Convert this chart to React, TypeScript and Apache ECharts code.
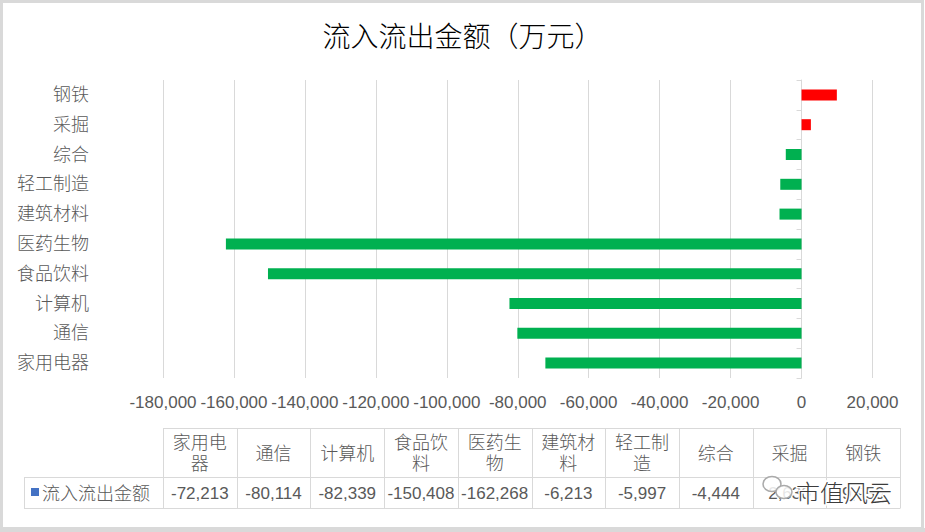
import React, { useEffect, useRef } from 'react';
import * as echarts from 'echarts';

// Categories listed bottom-to-top on the chart (= left-to-right in the data table)
const categories = ['家用电器', '通信', '计算机', '食品饮料', '医药生物', '建筑材料', '轻工制造', '综合', '采掘', '钢铁'];
const values = [-72213, -80114, -82339, -150408, -162268, -6213, -5997, -4444, 2630, 9950];
const seriesName = '流入流出金额';
const chartTitle = '流入流出金额（万元）';
const xMin = -180000;
const xMax = 20000;
const xStep = 20000;
const watermarkText = '市值风云';

const FONT = "'Liberation Sans', 'Noto Sans CJK SC', sans-serif";
const GRAY = '#595959';
const LINE = '#d9d9d9';
const WEIGHT = 300;

const fmt = (v: number) => v.toLocaleString('en-US');
const wrap = (s: string) => (s.length > 3 ? s.slice(0, 3) + '\n' + s.slice(3) : s);

export default function App() {
  const ref = useRef<HTMLDivElement>(null);
  useEffect(() => {
    document.body.style.margin = '0';
    const chart = echarts.init(ref.current!, null, { renderer: 'svg' });

    // table layout
    const tLeft = 163;
    const tRight = 900;
    const colW = (tRight - tLeft) / categories.length;
    const hTop = 428;
    const rTop = 477;
    const rBot = 508;
    const legLeft = 24;

    const graphics: any[] = [];
    const hline = (x1: number, x2: number, y: number) =>
      graphics.push({ type: 'line', shape: { x1, y1: y + 0.5, x2, y2: y + 0.5 }, style: { stroke: LINE, lineWidth: 1 }, silent: true });
    const vline = (x: number, y1: number, y2: number) =>
      graphics.push({ type: 'line', shape: { x1: Math.round(x) + 0.5, y1, x2: Math.round(x) + 0.5, y2 }, style: { stroke: LINE, lineWidth: 1 }, silent: true });

    hline(tLeft, tRight, hTop);
    hline(legLeft, tRight, rTop);
    hline(legLeft, tRight, rBot);
    for (let i = 0; i <= categories.length; i++) vline(tLeft + i * colW, hTop, rBot + 0.5);
    vline(legLeft, rTop, rBot + 0.5);

    categories.forEach((c, i) => {
      const cx = tLeft + (i + 0.5) * colW;
      graphics.push({
        type: 'text',
        style: {
          text: wrap(c), x: cx, y: (hTop + rTop) / 2 + 1, fill: GRAY, fontSize: 18, fontFamily: FONT, fontWeight: WEIGHT,
          lineHeight: 21, align: 'center', verticalAlign: 'middle', textAlign: 'center', textVerticalAlign: 'middle',
        },
      });
      graphics.push({
        type: 'text',
        style: {
          text: fmt(values[i]), x: cx, y: (rTop + rBot) / 2 + 1, fill: GRAY, fontSize: 17, fontFamily: FONT,
          align: 'center', verticalAlign: 'middle', textAlign: 'center', textVerticalAlign: 'middle',
        },
      });
    });

    // legend key in table
    graphics.push({ type: 'rect', shape: { x: 31, y: 488, width: 8, height: 8 }, style: { fill: '#4472C4' } });
    graphics.push({
      type: 'text',
      style: {
        text: seriesName, x: 42, y: (rTop + rBot) / 2 + 1, fill: GRAY, fontSize: 18, fontFamily: FONT, fontWeight: WEIGHT,
        align: 'left', verticalAlign: 'middle', textAlign: 'left', textVerticalAlign: 'middle',
      },
    });

    // watermark
    graphics.push({ type: 'ellipse', shape: { cx: 772, cy: 484, rx: 9, ry: 7.5 }, style: { fill: 'rgba(255,255,255,0.85)', stroke: '#aaa', lineWidth: 1.5 } });
    graphics.push({ type: 'ellipse', shape: { cx: 784, cy: 492, rx: 8, ry: 6.5 }, style: { fill: 'rgba(255,255,255,0.85)', stroke: '#aaa', lineWidth: 1.5 } });
    graphics.push({
      type: 'text',
      style: {
        text: watermarkText, x: 796, y: 493, fill: '#3c3c3c', stroke: '#ffffff', lineWidth: 3,
        fontSize: 24, fontFamily: FONT, fontWeight: WEIGHT, align: 'left', verticalAlign: 'middle', textAlign: 'left', textVerticalAlign: 'middle',
      },
    });

    // outer frame
    graphics.push({ type: 'rect', shape: { x: 1.5, y: 1.5, width: 921, height: 527 }, style: { fill: 'none', stroke: LINE, lineWidth: 3 }, silent: true });
    graphics.push({ type: 'rect', shape: { x: 0, y: 528, width: 925, height: 4 }, style: { fill: LINE }, silent: true });

    chart.setOption({
      animation: false,
      backgroundColor: '#ffffff',
      title: {
        text: chartTitle,
        left: 'center',
        top: 23,
        padding: 0,
        textStyle: { fontSize: 28, fontWeight: WEIGHT, color: '#000000', fontFamily: FONT },
      },
      grid: { left: 163, right: 52.5, top: 80, bottom: 154, containLabel: false, outerBoundsMode: 'none' },
      xAxis: {
        type: 'value',
        min: xMin,
        max: xMax,
        interval: xStep,
        axisLine: { show: false },
        axisTick: { show: false },
        axisLabel: { formatter: (v: number) => fmt(v), fontSize: 17, color: GRAY, fontFamily: FONT, margin: 16 },
        splitLine: { show: true, lineStyle: { color: LINE, width: 1 } },
      },
      yAxis: [
        {
          type: 'category',
          data: categories,
          position: 'left',
          axisLine: { show: false, onZero: false },
          axisTick: { show: false },
          axisLabel: { margin: 74, fontSize: 18, color: GRAY, fontFamily: FONT, fontWeight: WEIGHT },
          splitLine: { show: false },
        },
        {
          type: 'category',
          data: categories,
          position: 'left',
          axisLine: { show: true, onZero: true, lineStyle: { color: LINE, width: 1 } },
          axisTick: { show: true, length: 5, lineStyle: { color: LINE } },
          axisLabel: { show: false },
          splitLine: { show: false },
        },
      ],
      series: [
        {
          name: seriesName,
          type: 'bar',
          yAxisIndex: 0,
          barWidth: 11,
          data: values.map((v) => ({ value: v, itemStyle: { color: v < 0 ? '#00B050' : '#FF0000' } })),
        },
      ],
      graphic: graphics,
    });

    return () => chart.dispose();
  }, []);
  return <div ref={ref} style={{ width: 925, height: 532, background: '#fff' }} />;
}
